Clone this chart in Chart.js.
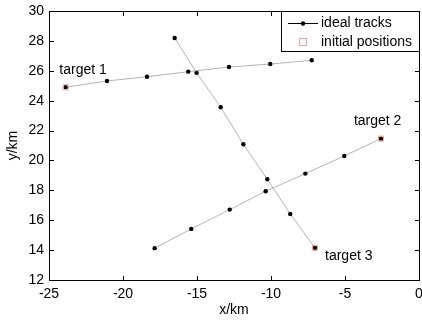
<!DOCTYPE html>
<html>
<head>
<meta charset="utf-8">
<script src="https://cdn.jsdelivr.net/npm/chart.js@4"></script>
<style>
  html, body { margin: 0; padding: 0; background: #fff; }
  canvas { display: block; }
</style>
</head>
<body>
<canvas id="grafico" width="422" height="320"></canvas>
<script>
// trayectorias (km)
const track1X = [-23.87, -21.08, -18.38, -15.59, -12.84, -10.05, -7.25];
const track1Y = [24.90, 25.32, 25.60, 25.94, 26.25, 26.45, 26.70];
const track2X = [-2.57, -5.05, -7.68, -10.36, -12.79, -15.39, -17.86];
const track2Y = [21.46, 20.30, 19.12, 17.94, 16.71, 15.42, 14.13];
const track3X = [-7.03, -8.70, -10.25, -11.87, -13.40, -15.03, -16.51];
const track3Y = [14.15, 16.42, 18.74, 21.08, 23.56, 25.87, 28.19];

const targetNames = ['target 1', 'target 2', 'target 3'];
const labelX = [-24.3, -4.4, -6.35];
const labelY = [26.05, 22.66, 13.57];

const xTicks = [-25, -20, -15, -10, -5, 0];
const yTicks = [12, 14, 16, 18, 20, 22, 24, 26, 28, 30];

const FAMILIA = '"Liberation Sans", Arial, sans-serif';
const FONT = '14px ' + FAMILIA;

function puntos(xs, ys) {
    return xs.map((x, i) => ({ x: x, y: ys[i] }));
}

const tracks = [[track1X, track1Y], [track2X, track2Y], [track3X, track3Y]];

const datasets = tracks.map(t => ({
    label: 'ideal tracks',
    data: puntos(t[0], t[1]),
    showLine: true,
    borderColor: '#b4b4b4',
    borderWidth: 1,
    pointRadius: 2.2,
    pointBackgroundColor: '#000',
    pointBorderColor: '#000',
    pointBorderWidth: 0,
    order: 2
}));

datasets.push({
    label: 'initial positions',
    data: tracks.map(t => ({ x: t[0][0], y: t[1][0] })),
    showLine: false,
    pointStyle: 'rect',
    pointRadius: 3.6,
    pointBackgroundColor: 'rgba(0,0,0,0)',
    pointBorderColor: '#f0a0a0',
    pointBorderWidth: 1,
    order: 1
});

// caja, ticks hacia dentro, etiquetas de texto y leyenda
const marco = {
    id: 'marco',
    afterDraw(chart) {
        const ctx = chart.ctx;
        const a = chart.chartArea;
        const xs = chart.scales.x, ys = chart.scales.y;
        const L = Math.round(a.left), R = Math.round(a.right);
        const T = Math.round(a.top), B = Math.round(a.bottom);
        ctx.save();
        ctx.fillStyle = '#000';
        // caja
        ctx.fillRect(L, T, R - L + 1, 1);
        ctx.fillRect(L, B, R - L + 1, 1);
        ctx.fillRect(L, T, 1, B - T + 1);
        ctx.fillRect(R, T, 1, B - T + 1);
        // ticks
        xTicks.forEach(v => {
            const px = Math.round(xs.getPixelForValue(v));
            ctx.fillRect(px, B - 4, 1, 4);
            ctx.fillRect(px, T + 1, 1, 4);
        });
        yTicks.forEach(v => {
            const py = Math.round(ys.getPixelForValue(v));
            ctx.fillRect(L + 1, py, 4, 1);
            ctx.fillRect(R - 4, py, 4, 1);
        });

        ctx.font = FONT;
        ctx.textAlign = 'left';
        ctx.textBaseline = 'middle';
        targetNames.forEach((n, i) => {
            ctx.fillText(n, xs.getPixelForValue(labelX[i]), ys.getPixelForValue(labelY[i]));
        });

        // leyenda
        const lx = 281, lh = 40;
        ctx.fillStyle = '#fff';
        ctx.fillRect(lx, T, R - lx, lh);
        ctx.fillStyle = '#000';
        ctx.fillRect(lx, T, R - lx, 1);
        ctx.fillRect(lx, T + lh, R - lx, 1);
        ctx.fillRect(lx, T, 1, lh);
        ctx.fillRect(288, 23, 30, 1);
        ctx.beginPath();
        ctx.arc(303, 23.5, 2.2, 0, Math.PI * 2);
        ctx.fill();
        ctx.strokeStyle = '#f0a0a0';
        ctx.lineWidth = 1;
        ctx.strokeRect(299.5, 38.5, 7, 7);
        ctx.fillText('ideal tracks', 321, 23);
        ctx.fillText('initial positions', 321, 42);
        ctx.restore();
    }
};

new Chart(document.getElementById('grafico').getContext('2d'), {
    type: 'scatter',
    data: { datasets: datasets },
    options: {
        responsive: false,
        animation: false,
        layout: { autoPadding: false, padding: { top: 11, right: 3, left: 0, bottom: 0 } },
        plugins: { legend: { display: false }, tooltip: { enabled: false } },
        scales: {
            x: {
                type: 'linear', min: -25, max: 0,
                grid: { display: false, drawTicks: false },
                border: { display: false },
                afterFit(s) { s.height = 40; s.paddingLeft = 0; s.paddingRight = 0; },
                afterBuildTicks(s) { s.ticks = xTicks.map(v => ({ value: v })); },
                ticks: { color: '#000', font: { family: FAMILIA, size: 14 }, padding: 6, maxRotation: 0 },
                title: { display: true, text: 'x/km', color: '#000', font: { family: FAMILIA, size: 14 }, padding: { top: 0, bottom: 1 } }
            },
            y: {
                type: 'linear', min: 12, max: 30,
                grid: { display: false, drawTicks: false },
                border: { display: false },
                afterFit(s) { s.width = 49; s.paddingTop = 0; s.paddingBottom = 0; },
                afterBuildTicks(s) { s.ticks = yTicks.map(v => ({ value: v })); },
                ticks: { color: '#000', font: { family: FAMILIA, size: 14 }, padding: 5 },
                title: { display: true, text: 'y/km', color: '#000', font: { family: FAMILIA, size: 14 }, padding: { top: 5, bottom: 0 } }
            }
        }
    },
    plugins: [marco]
});
</script>
</body>
</html>
